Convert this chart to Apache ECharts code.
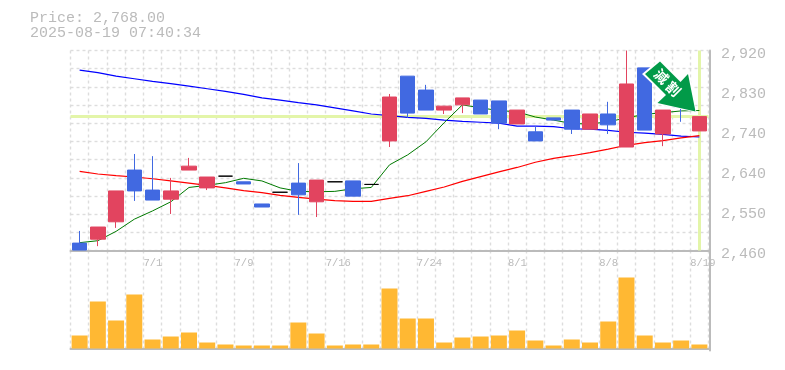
<!DOCTYPE html>
<html>
<head>
<meta charset="utf-8">
<style>html,body{margin:0;padding:0;background:#fff}#c{width:785px;height:370px}</style>
<script src="https://cdn.jsdelivr.net/npm/echarts@6/dist/echarts.min.js"></script>
</head>
<body>
<div id="c"></div>
<script>
var priceLine = 'Price: 2,768.00';
var timeLine = '2025-08-19 07:40:34';
var currentPrice = 2768;
var priceTicks = ['2,460','2,550','2,640','2,740','2,830','2,920'];
var dateTicks = {4:'7/1',9:'7/9',14:'7/16',19:'7/24',24:'8/1',29:'8/8',34:'8/19'};
var opens  = [2477,2486,2526,2645,2599,2578,2645,2604,2631,2618,2567,2594,2615,2572,2618,2620,2612,2712,2861,2829,2783,2795,2806,2804,2751,2733,2765,2783,2739,2774,2698,2880,2728,2792,2735];
var closes = [2461,2514,2597,2597,2576,2597,2654,2629,2631,2613,2560,2594,2588,2622,2618,2585,2612,2813,2776,2783,2792,2811,2774,2753,2783,2712,2760,2739,2774,2749,2843,2737,2783,2790,2768];
var lows   = [2461,2470,2512,2574,2576,2544,2645,2599,2631,2613,2560,2594,2542,2537,2618,2585,2612,2698,2765,2783,2774,2776,2774,2739,2751,2712,2760,2728,2739,2728,2698,2737,2700,2756,2735];
var highs  = [2505,2514,2597,2682,2677,2627,2673,2629,2631,2618,2567,2594,2661,2622,2618,2620,2612,2820,2861,2841,2792,2811,2806,2804,2783,2746,2765,2783,2774,2802,2920,2880,2783,2795,2768];
var maShort = [2478,2482.5,2504,2532,2551,2572,2605,2610,2616,2626,2620,2604,2596,2595,2596,2602,2605,2657,2680,2710,2754,2795,2788,2782,2779,2767,2760,2752,2751,2756,2765,2773,2777,2781,2782];
var maMid   = [2642,2636,2632,2629,2625,2620,2615,2610,2604,2597.5,2593,2587,2582,2578,2574.5,2573,2573,2580,2586,2596,2606,2619,2630,2641,2651,2663,2672,2678,2685,2693,2702,2708,2712.5,2719,2724];
var maLong  = [2875,2869,2861,2855,2849,2844,2838,2832,2826,2819,2811,2806,2800,2795,2788,2781,2774,2770,2766,2764,2760,2757,2755,2753,2746,2746,2745,2740,2739,2736.5,2732,2730,2727,2723,2721];
var volumes = [13,47,28,54,9,12,16,6,4,3,3,3,26,15,3,4,4,60,30,30,6,11,12,13,18,8,3,9,6,27,71,13,6,8,4];

var cats = opens.map(function(_, i){ return 'd' + i; });
var bounds = opens.concat([0]).map(function(_, i){ return dateTicks[i] || ''; });
var grey = '#bbbbbb', grid = '#dddddd', hl = '#e3f5a9';
var chart = echarts.init(document.getElementById('c'), null, {renderer:'canvas'});
var mono = '"Liberation Mono", monospace';
var dash = {show:true, interval:0, lineStyle:{color:grid, type:[3,3], width:1.4}};

chart.setOption({
  animation:false,
  backgroundColor:'#fff',
  title:{
    text:priceLine + '\n' + timeLine, left:25, top:6,
    textStyle:{fontFamily:mono, fontSize:15, fontWeight:'normal', color:grey, lineHeight:15}
  },
  grid:[
    {left:70.5, width:638, top:50.5, height:200},
    {left:70.5, width:638, top:250.5, height:100},
    {left:70.5, width:638, top:54.5, height:200}
  ],
  xAxis:[
    {type:'category', gridIndex:0, data:cats, boundaryGap:true, axisLine:{show:false}, axisTick:{show:false}, axisLabel:{show:false}, splitLine:dash},
    {type:'category', gridIndex:0, data:bounds, boundaryGap:false, position:'bottom', axisLine:{show:true, lineStyle:{color:grey, width:2}}, axisTick:{show:false},
      splitLine:{show:false},
      axisLabel:{show:true, interval:0, align:'left', margin:7, fontFamily:mono, fontSize:10.5, color:grey, hideOverlap:false}},
    {type:'category', gridIndex:1, data:cats, boundaryGap:true, axisLine:{show:true, lineStyle:{color:grey, width:2}}, axisTick:{show:false}, axisLabel:{show:false}, splitLine:dash},
    {type:'category', gridIndex:2, data:cats, show:false}
  ],
  yAxis:[
    {type:'value', gridIndex:0, min:2460, max:2920, show:false, splitLine:{show:false}},
    {type:'value', gridIndex:0, min:0, max:11, interval:1, position:'right', offset:1.5,
      axisLine:{show:true, lineStyle:{color:grey, width:2}}, axisTick:{show:false}, axisLabel:{show:false},
      splitLine:{show:true, lineStyle:{color:grid, type:[3,3], width:1.4}}},
    {type:'value', gridIndex:2, min:0, max:5, interval:1, position:'right', offset:1.5,
      axisLine:{show:false}, axisTick:{show:false}, splitLine:{show:false},
      axisLabel:{show:true, margin:11, fontFamily:mono, fontSize:15, color:grey,
        formatter:function(v){ return priceTicks[v]; }}},
    {type:'value', gridIndex:1, min:-2, max:98, show:true, position:'right', offset:1.5,
      axisLine:{show:true, lineStyle:{color:grey, width:2}}, axisTick:{show:false}, axisLabel:{show:false}, splitLine:{show:false}}
  ],
  series:[
    {type:'line', xAxisIndex:0, yAxisIndex:0, data:[], z:1, silent:true,
      markLine:{z:1, silent:true, symbol:'none', label:{show:false}, animation:false,
        lineStyle:{color:hl, width:3, type:'solid'},
        data:[{yAxis:currentPrice},{xAxis:cats[cats.length-1]}]}},
    {type:'line', xAxisIndex:0, yAxisIndex:0, data:maLong, showSymbol:false, z:2, lineStyle:{color:'#0000ff', width:1.2}},
    {type:'line', xAxisIndex:0, yAxisIndex:0, data:maMid, showSymbol:false, z:2, lineStyle:{color:'#ff0000', width:1.2}},
    {type:'line', xAxisIndex:0, yAxisIndex:0, data:maShort, showSymbol:false, z:2, lineStyle:{color:'#007a00', width:1}},
    {type:'candlestick', xAxisIndex:0, yAxisIndex:0, barWidth:15, z:3,
      data:opens.map(function(o,i){ return [o, closes[i], lows[i], highs[i]]; }),
      itemStyle:{color:'#e2445f', color0:'#4169e1', borderColor:'#e2445f', borderColor0:'#4169e1', borderColorDoji:'#000000', borderWidth:1}},
    {type:'bar', xAxisIndex:2, yAxisIndex:3, data:volumes, barWidth:16, z:3, itemStyle:{color:'#ffb833'}}
  ],
  graphic:[
    {type:'polygon', z:100, shape:{points:[[642,74],[660,59],[681,79],[689,71],[696.5,112.5],[655,103.5],[664,95]]}, style:{fill:'#ffffff'}},
    {type:'polygon', z:101, shape:{points:[[645,74],[660,61.5],[680.5,82],[688,74],[695.5,111.5],[657.5,103],[666,95]]}, style:{fill:'#029a48'}},
    {type:'text', z:102, x:661.5, y:76.5, rotation:-Math.PI/4, style:{text:'減', x:0, y:0, align:'center', verticalAlign:'middle', fill:'#fff', font:'bold 14px "Noto Sans CJK JP"'}},
    {type:'text', z:102, x:673.5, y:89, rotation:-Math.PI/4, style:{text:'割', x:0, y:0, align:'center', verticalAlign:'middle', fill:'#fff', font:'bold 14px "Noto Sans CJK JP"'}}
  ]
});
</script>
</body>
</html>
